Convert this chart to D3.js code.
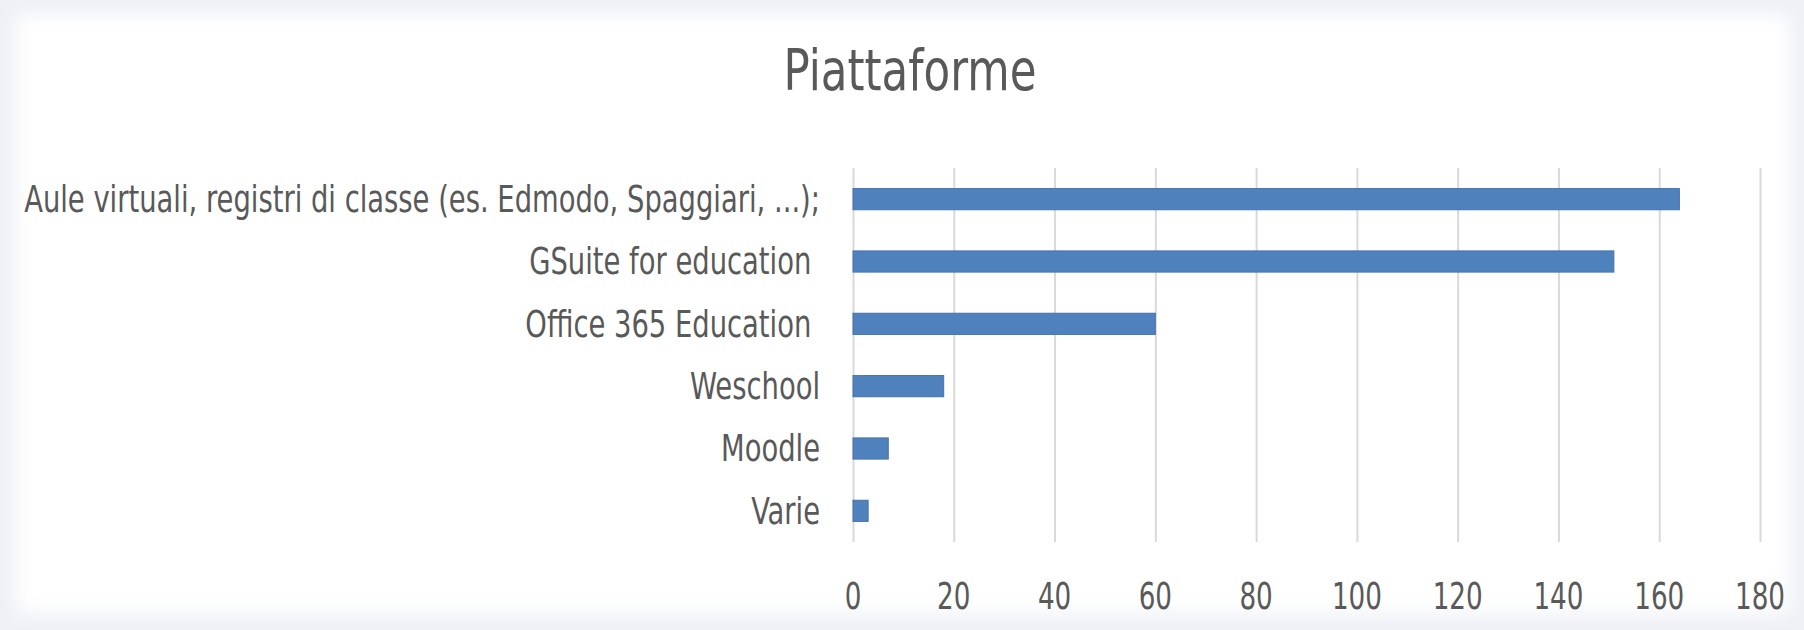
<!DOCTYPE html>
<html>
<head>
<meta charset="utf-8">
<script src="https://d3js.org/d3.v7.min.js"></script>
<style>
	body {
		margin: 0;
		background: #eef0f6;
	}
	svg text {
		font-family: "Liberation Sans Narrow", "DejaVu Sans Condensed", "Liberation Sans", sans-serif;
		fill: #595959;
		white-space: pre;
	}
	.grid line {
		stroke: #d9d9d9;
		stroke-width: 2px;
	}
	.bar {
		fill: #4f81bd;
		stroke: #4674ad;
		stroke-width: 1px;
	}
</style>
</head>

<body>
<script>

	// chart data
	var categories = ["Aule virtuali, registri di classe (es. Edmodo, Spaggiari, ...);",
	                  "GSuite for education ",
	                  "Office 365 Education ",
	                  "Weschool",
	                  "Moodle",
	                  "Varie"];
	var values = [164, 151, 60, 18, 7, 3];
	var xTicks = [0, 20, 40, 60, 80, 100, 120, 140, 160, 180];
	var title = "Piattaforme";

	var width = 1804,
	    height = 630;

	var svg = d3.select("body").append("svg")
	    .attr("width", width)
	    .attr("height", height);

	// soft frame round the chart area
	var defs = svg.append("defs");
	defs.append("filter").attr("id", "soft")
	    .attr("x", "-5%").attr("y", "-10%").attr("width", "110%").attr("height", "120%")
	  .append("feGaussianBlur").attr("stdDeviation", 9);

	svg.append("rect")
	    .attr("width", width).attr("height", height)
	    .attr("fill", "#eef0f6");
	svg.append("rect")
	    .attr("x", 16).attr("y", 14)
	    .attr("width", width - 30).attr("height", height - 30)
	    .attr("fill", "#ffffff")
	    .attr("filter", "url(#soft)");

	// scales
	var x = d3.scaleLinear()
	    .domain([0, 180])
	    .range([853, 1760]);

	var y = d3.scaleBand()
	    .domain(categories)
	    .range([168, 542])
	    .paddingInner(0.66)
	    .paddingOuter(0.33);

	// vertical gridlines
	svg.append("g")
	    .attr("class", "grid")
	    .attr("transform", "translate(0,542)")
	    .call(d3.axisBottom(x).tickValues(xTicks).tickSize(-(542 - 168)).tickFormat(""))
	    .call(function(g) { g.select(".domain").remove(); });

	// tick labels (narrowed like the original face)
	var ticks = svg.append("g")
	    .selectAll("text").data(xTicks)
	    .enter().append("text")
	    .style("text-anchor", "middle")
	    .style("font-size", "37px")
	    .text(function(d) { return d; });

	var w180 = ticks.filter(function(d) { return d == 180; }).node().getComputedTextLength();
	var tickSqueeze = Math.min(1, 50 / w180);
	ticks.attr("transform", function(d) {
	    return "translate(" + x(d) + ",609) scale(" + tickSqueeze + ",1)";
	});

	// bars
	svg.append("g")
	    .selectAll("rect").data(values)
	    .enter().append("rect")
	    .attr("class", "bar")
	    .attr("x", x(0))
	    .attr("y", function(d, i) { return y(categories[i]); })
	    .attr("width", function(d) { return x(d) - x(0); })
	    .attr("height", y.bandwidth());

	// category labels, squeezed a little to match the narrow face
	var labels = svg.append("g")
	    .selectAll("g").data(categories)
	    .enter().append("g");

	labels.append("text")
	    .attr("dy", "0.35em")
	    .style("text-anchor", "end")
	    .style("font-size", "37px")
	    .text(function(d) { return d; });

	var longest = labels.select("text").node().getComputedTextLength();
	var squeeze = Math.min(1, 796 / longest);

	labels.attr("transform", function(d) {
	    return "translate(820," + (y(d) + y.bandwidth() / 2) + ") scale(" + squeeze + ",1)";
	});

	// title
	var t = svg.append("text")
	    .style("text-anchor", "middle")
	    .style("font-size", "57px")
	    .text(title);
	var tw = t.node().getComputedTextLength();
	t.attr("transform", "translate(910,90) scale(" + (253 / tw) + ",1)");

</script>
</body>
</html>
